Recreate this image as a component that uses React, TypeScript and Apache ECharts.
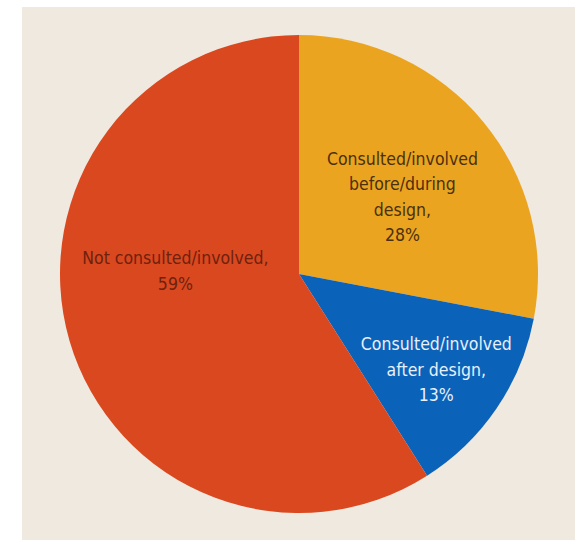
import React, { useEffect, useRef } from "react";
import * as echarts from "echarts";

const categories = [
  "Consulted/involved before/during design",
  "Consulted/involved after design",
  "Not consulted/involved",
];
const labelLines = [
  ["Consulted/involved", "before/during", "design,"],
  ["Consulted/involved", "after design,"],
  ["Not consulted/involved,"],
];
const values = [28, 13, 59];
const colors = ["#eba420", "#0b63b9", "#da4820"];
const labelColors = ["#4a300e", "#e8f0fa", "#6e210c"];
const labelOffsets = [
  [9, 1],
  [36, 27],
  [-6, -37],
];

export default function App() {
  const ref = useRef<HTMLDivElement>(null);
  useEffect(() => {
    const chart = echarts.init(ref.current!, null, { renderer: "svg" });
    chart.setOption({
      animation: false,
      backgroundColor: "#ffffff",
      graphic: [
        {
          type: "rect",
          z: -10,
          shape: { x: 22, y: 7, width: 553, height: 533 },
          style: { fill: "#efe9df" },
        },
      ],
      series: [
        {
          type: "pie",
          center: [299, 274],
          radius: [0, 239],
          startAngle: 90,
          clockwise: true,
          avoidLabelOverlap: false,
          labelLine: { show: false },
          itemStyle: { borderWidth: 0 },
          data: categories.map((name, i) => ({
            name,
            value: values[i],
            itemStyle: { color: colors[i] },
            label: {
              show: true,
              position: "inside",
              offset: labelOffsets[i],
              color: labelColors[i],
              fontFamily: "'DejaVu Sans Condensed', 'Liberation Sans Narrow', sans-serif",
              fontSize: 17.5,
              lineHeight: 25.5,
              align: "center",
              formatter: () => [...labelLines[i], values[i] + "%"].join("\n"),
            },
          })),
        },
      ],
    });
    return () => chart.dispose();
  }, []);
  return (
    <div
      ref={ref}
      style={{ position: "fixed", left: 0, top: 0, width: 575, height: 542 }}
    />
  );
}
